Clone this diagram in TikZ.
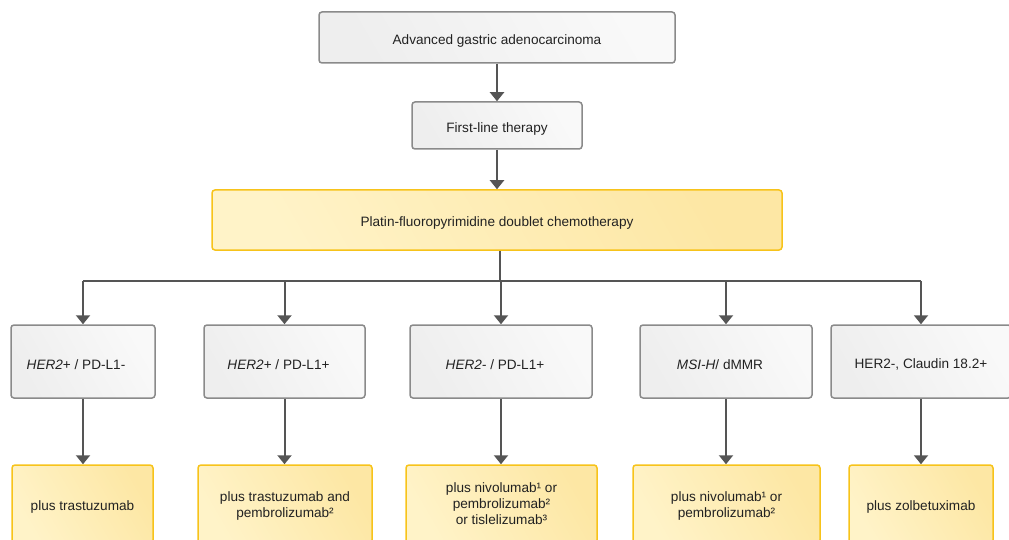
\documentclass[tikz,border=0pt]{standalone}
\usepackage{fontspec}
\setmainfont{Liberation Sans}
\usetikzlibrary{arrows.meta}
\definecolor{gborder}{HTML}{8A8A8A}
\definecolor{gtop}{HTML}{EEEEEE}
\definecolor{gbot}{HTML}{F9F9F9}
\definecolor{yborder}{HTML}{F7C31A}
\definecolor{ytop}{HTML}{FFF3C8}
\definecolor{ybot}{HTML}{FDE7A4}
\definecolor{arrowc}{HTML}{555555}
\definecolor{txt}{HTML}{222222}
\newcommand{\lw}[2][-3pt]{\raisebox{#1}[\height][\depth]{#2}}
\tikzset{
  box/.style={rounded corners=3pt, line width=1.5pt, inner sep=2pt, align=center,
    text=txt, font=\fontsize{13.6}{16}\selectfont},
  gbox/.style={box, draw=gborder, left color=gtop, right color=gbot, shading angle=120},
  ybox/.style={box, draw=yborder, left color=ytop, right color=ybot, shading angle=120},
  arr/.style={draw=arrowc, line width=2pt, -{Triangle[width=14pt,length=9pt]}},
  bus/.style={draw=arrowc, line width=2pt},
}
\begin{document}
\begin{tikzpicture}[x=1pt,y=-1pt]
\useasboundingbox (0,0) rectangle (1009,540);
% top
\node[gbox, minimum width=356pt, minimum height=51pt] (adv) at (497,37.5) {\lw{Advanced gastric adenocarcinoma}};
\node[gbox, minimum width=170pt, minimum height=47pt] (first) at (497,125.5) {\lw{First-line therapy}};
\node[ybox, minimum width=570pt, minimum height=60pt] (plat) at (497,220) {\lw{Platin-fluoropyrimidine doublet chemotherapy}};
% row 2
\node[gbox, minimum width=144pt, minimum height=73pt] (m1) at (83,361.5) {\lw{\textit{HER2}+ / PD-L1-}\hspace{14pt}};
\node[gbox, minimum width=161pt, minimum height=73pt] (m2) at (284.5,361.5) {\lw{\textit{HER2}+ / PD-L1+}\hspace{12pt}};
\node[gbox, minimum width=182pt, minimum height=73pt] (m3) at (501,361.5) {\lw{\textit{HER2-} / PD-L1+}\hspace{12pt}};
\node[gbox, minimum width=172pt, minimum height=73pt] (m4) at (726,361.5) {\lw{\textit{MSI-H}/ dMMR}\hspace{12pt}};
\node[gbox, minimum width=180pt, minimum height=73pt] (m5) at (921,361.5) {\lw{HER2-, Claudin 18.2+}};
% row 3
\node[ybox, minimum width=141pt, minimum height=78pt] (t1) at (82.5,504) {\lw{plus trastuzumab}};
\node[ybox, minimum width=174pt, minimum height=78pt] (t2) at (285,504) {\lw[-2pt]{\begin{tabular}{@{}c@{}}plus trastuzumab and\\pembrolizumab²\hspace{12pt}\end{tabular}}};
\node[ybox, minimum width=191pt, minimum height=78pt] (t3) at (501.5,504) {\lw[-1.5pt]{\begin{tabular}{@{}c@{}}plus nivolumab¹ or\\pembrolizumab²\\or tislelizumab³\end{tabular}}};
\node[ybox, minimum width=187pt, minimum height=78pt] (t4) at (726.5,504) {\lw[-2pt]{\begin{tabular}{@{}c@{}}plus nivolumab¹ or\\pembrolizumab²\end{tabular}}};
\node[ybox, minimum width=144pt, minimum height=78pt] (t5) at (921,504) {\lw{plus zolbetuximab}};
% connectors
\coordinate (busc) at (500,281);
\draw[arr] (adv.south) -- (first.north);
\draw[arr] (first.south) -- (plat.north);
\draw[bus] (plat.south -| busc) -- (busc);
\draw[bus] (busc -| m1) -- (busc -| m5);
\foreach \n in {m1,m2,m3,m4,m5}{
  \draw[arr] (busc -| \n) -- (\n.north);
}
\draw[arr] (m1.south) -- (t1.north -| m1);
\draw[arr] (m2.south) -- (t2.north -| m2);
\draw[arr] (m3.south) -- (t3.north -| m3);
\draw[arr] (m4.south) -- (t4.north -| m4);
\draw[arr] (m5.south) -- (t5.north);
\end{tikzpicture}
\end{document}
